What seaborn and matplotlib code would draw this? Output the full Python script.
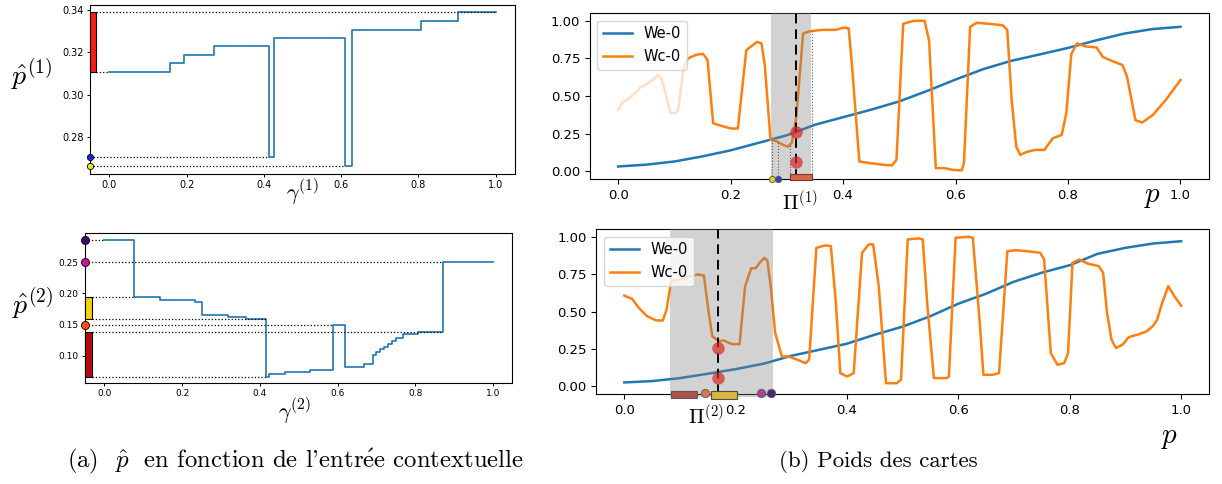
import numpy as np
import matplotlib
matplotlib.use('Agg')
import matplotlib.pyplot as plt
import matplotlib.transforms as mtransforms
import seaborn as sns

plt.rcParams['mathtext.fontset'] = 'cm'

# ---------------- (a) p^ en fonction de gamma ----------------
gamma1 = [0.0, 0.157, 0.193, 0.271, 0.414, 0.425, 0.611, 0.627, 0.806, 0.903, 1.0]
p_hat1 = [0.3107, 0.3150, 0.3187, 0.3228, 0.2706, 0.3268, 0.2665, 0.3307, 0.3348, 0.3389, 0.3389]

gamma2 = [0.0, 0.076, 0.142, 0.233, 0.250, 0.317, 0.365, 0.417, 0.423, 0.464, 0.529, 0.588,
          0.619, 0.668, 0.692, 0.700, 0.710, 0.720, 0.730, 0.740, 0.750, 0.768, 0.808, 0.871, 1.0]
p_hat2 = [0.2855, 0.1938, 0.1900, 0.1868, 0.1660, 0.1620, 0.1584, 0.0663, 0.0700, 0.0732, 0.0775, 0.1498,
          0.0823, 0.0860, 0.1010, 0.1050, 0.1100, 0.1140, 0.1180, 0.1240, 0.1280, 0.1340, 0.1380, 0.2500, 0.2500]

# intervalles (barres) et points reportes sur l'axe vertical
bars1 = [(0.3107, 0.3389)]
bars1_col = ['#ff1a1a']
bars1_end = [(0.0, 1.0)]          # fin des pointilles (bas, haut)
pts1 = [0.2706, 0.2665]
pts1_col = ['#1f1fe6', '#e8e817']
pts1_end = [0.414, 0.611]

bars2 = [(0.1584, 0.1938), (0.0663, 0.1380)]
bars2_col = ['#f7d10c', '#b40a0a']
bars2_end = [(0.417, 0.076), (0.417, 0.871)]
pts2 = [0.2855, 0.2500, 0.1498]
pts2_col = ['#440a68', '#c0189c', '#f5520c']
pts2_end = [0.0, 0.871, 0.588]

# ---------------- (b) poids des cartes ----------------
p_we1 = [0.0, 0.05, 0.1, 0.15, 0.2, 0.25, 0.3, 0.35, 0.4, 0.45, 0.5, 0.55, 0.6, 0.65, 0.7,
         0.75, 0.8, 0.85, 0.9, 0.95, 1.0]
we1 = [0.033, 0.045, 0.066, 0.10, 0.14, 0.19, 0.24, 0.31, 0.36, 0.41, 0.465, 0.535, 0.61,
       0.68, 0.735, 0.777, 0.82, 0.87, 0.915, 0.945, 0.96]
p_wc1 = [0.000, 0.008, 0.019, 0.031, 0.040, 0.050, 0.062, 0.071, 0.077, 0.089, 0.093, 0.101, 0.107,
         0.116, 0.124, 0.139, 0.151, 0.159, 0.169, 0.186, 0.201, 0.213, 0.228, 0.247, 0.255, 0.261,
         0.271, 0.282, 0.294, 0.302, 0.309, 0.317, 0.329, 0.340, 0.363, 0.387, 0.402, 0.410, 0.416,
         0.429, 0.449, 0.472, 0.487, 0.495, 0.507, 0.526, 0.545, 0.553, 0.565, 0.580, 0.596, 0.611,
         0.615, 0.626, 0.638, 0.665, 0.684, 0.692, 0.700, 0.708, 0.715, 0.727, 0.742, 0.758, 0.773,
         0.789, 0.797, 0.806, 0.816, 0.831, 0.851, 0.862, 0.874, 0.897, 0.905, 0.920, 0.932, 0.951,
         0.974, 1.000]
wc1 = [0.41, 0.46, 0.485, 0.52, 0.56, 0.575, 0.61, 0.64, 0.62, 0.45, 0.39, 0.385, 0.41,
       0.68, 0.75, 0.775, 0.78, 0.74, 0.32, 0.30, 0.285, 0.285, 0.805, 0.86, 0.85, 0.70,
       0.21, 0.20, 0.175, 0.165, 0.19, 0.365, 0.915, 0.93, 0.94, 0.94, 0.955, 0.95, 0.70,
       0.066, 0.055, 0.044, 0.04, 0.077, 0.98, 1.0, 1.0, 0.87, 0.022, 0.022, 0.01, 0.007,
       0.055, 0.96, 0.987, 0.978, 0.97, 0.94, 0.47, 0.165, 0.11, 0.13, 0.143, 0.143, 0.22,
       0.243, 0.386, 0.78, 0.85, 0.83, 0.823, 0.76, 0.74, 0.706, 0.63, 0.34, 0.325, 0.375,
       0.475, 0.607]
span1 = (0.2715, 0.3432)
pi1 = 0.3165
red_pts1 = [0.261, 0.066]
bar_b1 = (0.3054, 0.3452)
dots_b1 = [0.274, 0.2845]
dots_b1_col = ['#d8d428', '#3c3cc8']

p_we2 = [0.0, 0.05, 0.1, 0.15, 0.2, 0.25, 0.3, 0.35, 0.4, 0.45, 0.5, 0.55, 0.6, 0.65, 0.7,
         0.75, 0.8, 0.85, 0.9, 0.95, 1.0]
we2 = [0.027, 0.036, 0.056, 0.085, 0.116, 0.152, 0.205, 0.245, 0.286, 0.346, 0.40, 0.47, 0.553,
       0.62, 0.70, 0.76, 0.81, 0.886, 0.926, 0.955, 0.97]
p_wc2 = [0.000, 0.014, 0.026, 0.041, 0.057, 0.069, 0.076, 0.084, 0.100, 0.115, 0.131, 0.143, 0.150,
         0.158, 0.170, 0.178, 0.193, 0.207, 0.217, 0.228, 0.236, 0.244, 0.252, 0.257, 0.263, 0.271,
         0.283, 0.295, 0.310, 0.326, 0.332, 0.345, 0.361, 0.371, 0.380, 0.388, 0.400, 0.412, 0.427,
         0.439, 0.447, 0.457, 0.470, 0.489, 0.497, 0.509, 0.528, 0.536, 0.544, 0.556, 0.579, 0.583,
         0.595, 0.618, 0.626, 0.638, 0.645, 0.661, 0.673, 0.688, 0.704, 0.723, 0.747, 0.754, 0.766,
         0.778, 0.790, 0.797, 0.805, 0.817, 0.832, 0.852, 0.860, 0.867, 0.875, 0.883, 0.895, 0.906,
         0.922, 0.938, 0.949, 0.957, 0.965, 0.977, 0.988, 1.000]
wc2 = [0.607, 0.585, 0.525, 0.469, 0.442, 0.44, 0.513, 0.703, 0.714, 0.732, 0.748, 0.741, 0.536,
       0.335, 0.301, 0.308, 0.283, 0.283, 0.67, 0.79, 0.79, 0.83, 0.86, 0.84, 0.67, 0.357,
       0.2, 0.2, 0.18, 0.156, 0.18, 0.926, 0.942, 0.938, 0.558, 0.089, 0.067, 0.089, 0.893,
       0.949, 0.949, 0.67, 0.022, 0.022, 0.045, 0.982, 0.989, 0.982, 0.558, 0.056, 0.056, 0.067,
       0.993, 1.0, 0.993, 0.446, 0.078, 0.078, 0.089, 0.904, 0.91, 0.904, 0.893, 0.848, 0.223,
       0.145, 0.156, 0.223, 0.826, 0.848, 0.821, 0.804, 0.759, 0.491, 0.313, 0.257, 0.279, 0.33,
       0.346, 0.368, 0.402, 0.446, 0.547, 0.67, 0.603, 0.54]
span2 = (0.0826, 0.267)
pi2 = 0.168
red_pts2 = [0.257, 0.060]
bars_b2 = [(0.0846, 0.1300), (0.1550, 0.2016)]
bars_b2_col = ['#b0504a', '#d8b73c']
dots_b2 = [0.1448, 0.2464, 0.2643]
dots_b2_col = ['#d6784e', '#a4449a', '#4b2a6e']

left_yticks1 = [0.28, 0.30, 0.32, 0.34]
left_yticks2 = [0.10, 0.15, 0.20, 0.25]
right_yticks = [0.0, 0.25, 0.50, 0.75, 1.00]
xticks = [0.0, 0.2, 0.4, 0.6, 0.8, 1.0]

fig = plt.figure(figsize=(12.22, 4.84), dpi=100)
ax1 = fig.add_axes([0.0738, 0.6405, 0.3475, 0.3498])
ax2 = fig.add_axes([0.0696, 0.2087, 0.3497, 0.3099])
ax3 = fig.add_axes([0.4828, 0.6302, 0.5062, 0.3424])
ax4 = fig.add_axes([0.4881, 0.1860, 0.5012, 0.3403])

BLUE = '#1f77b4'
ORANGE = '#ff7f0e'


def left_panel(ax, g, p, bars, bcols, bends, pts, pcols, pends, bw, ms, yt, lab, ylim):
    sns.lineplot(x=g, y=p, drawstyle='steps-post', color=BLUE, lw=1.2, ax=ax)
    ax.set_xlim(-0.05, 1.05)
    ax.set_ylim(*ylim)
    x0 = -0.05
    for (lo, hi), c, (e_lo, e_hi) in zip(bars, bcols, bends):
        ax.bar(x0, hi - lo, bottom=lo, width=bw, align='edge', color=c, edgecolor='k',
               lw=0.8, clip_on=False, zorder=4)
        ax.plot([x0 + bw, e_lo], [lo, lo], ls=':', color='k', lw=0.9, zorder=3)
        ax.plot([x0 + bw, e_hi], [hi, hi], ls=':', color='k', lw=0.9, zorder=3)
    for y, c, e in zip(pts, pcols, pends):
        ax.plot([x0, e], [y, y], ls=':', color='k', lw=0.9, zorder=3)
        ax.plot([x0], [y], 'o', ms=ms, mfc=c, mec='k', mew=0.6, clip_on=False, zorder=5)
    ax.set_xticks(xticks)
    ax.set_yticks(yt)
    ax.tick_params(labelsize=7, length=2.5, width=0.7, pad=2)
    ax.set_xlabel('')
    ax.set_ylabel(lab, rotation=0, fontsize=20)


left_panel(ax1, gamma1, p_hat1, bars1, bars1_col, bars1_end, pts1, pts1_col, pts1_end,
           0.016, 4.5, left_yticks1, r'$\hat{p}^{(1)}$', (0.2627, 0.3425))
ax1.yaxis.set_label_coords(-0.139, 0.585)
ax1.yaxis.label.set_va('center')
ax1.text(0.5, -0.11, r'$\gamma^{(1)}$', transform=ax1.transAxes, ha='center', va='center', fontsize=16)

left_panel(ax2, gamma2, p_hat2, bars2, bars2_col, bars2_end, pts2, pts2_col, pts2_end,
           0.017, 5.8, left_yticks2, r'$\hat{p}^{(2)}$', (0.056, 0.297))
ax2.yaxis.set_label_coords(-0.122, 0.533)
ax2.yaxis.label.set_va('center')
ax2.set_yticklabels(['0.10', '0.15', '0.20', '0.25'], fontsize=6.5)
ax2.tick_params(axis='x', labelsize=6.5)
ax2.text(0.491, -0.19, r'$\gamma^{(2)}$', transform=ax2.transAxes, ha='center', va='center', fontsize=16)


def right_panel(ax, pwe, we, pwc, wc, fade_to=None):
    sns.lineplot(x=pwe, y=we, color=BLUE, lw=1.8, label='We-0', ax=ax)
    pwc = np.asarray(pwc)
    wc = np.asarray(wc)
    if fade_to is not None:
        m = pwc <= fade_to[1]
        sns.lineplot(x=pwc[m], y=wc[m], color=ORANGE, lw=1.8, alpha=0.25, ax=ax)
        m = pwc >= fade_to[0]
        sns.lineplot(x=pwc[m], y=wc[m], color=ORANGE, lw=1.8, label='Wc-0', ax=ax)
    else:
        sns.lineplot(x=pwc, y=wc, color=ORANGE, lw=1.8, label='Wc-0', ax=ax)
    ax.set_xlim(-0.05, 1.05)
    ax.set_ylim(-0.05, 1.05)
    ax.set_xticks(xticks)
    ax.set_yticks(right_yticks)
    ax.tick_params(labelsize=9.5)
    ax.set_xlabel('')
    ax.set_ylabel('')
    ax.legend(loc='upper left', fontsize=10.5)


# ---- haut droite
right_panel(ax3, p_we1, we1, p_wc1, wc1, fade_to=(0.116, 0.124))
ax3.axvspan(*span1, color='gray', alpha=0.35, lw=0, zorder=3)
ax3.axvline(pi1, color='k', ls=(0, (5, 3)), lw=1.4, zorder=6)
ax3.plot([pi1] * len(red_pts1), red_pts1, 'o', ms=9, color='#d62728', alpha=0.7, mew=0, zorder=7)
for xv in dots_b1 + list(bar_b1):
    ax3.plot([xv, xv], [-0.05, np.interp(xv, p_wc1, wc1)], ls=':', color='0.35', lw=0.8, zorder=4)
ax3.barh(-0.055, bar_b1[1] - bar_b1[0], left=bar_b1[0], height=0.04, align='edge',
         color='#d9654a', edgecolor='#7a3a2a', lw=0.8, clip_on=False, zorder=6)
for xv, c in zip(dots_b1, dots_b1_col):
    ax3.plot([xv], [-0.05], 'o', ms=4.5, mfc=c, mec='0.3', mew=0.6, clip_on=False, zorder=7)
tr3 = mtransforms.blended_transform_factory(ax3.transData, ax3.transAxes)
ax3.text(0.323, -0.139, r'$\Pi^{(1)}$', transform=tr3, ha='center', va='center', fontsize=15)
ax3.text(0.9085, -0.103, r'$p$', transform=ax3.transAxes, ha='center', va='center', fontsize=21)

# ---- bas droite
right_panel(ax4, p_we2, we2, p_wc2, wc2)
ax4.axvspan(*span2, ymin=-0.02, ymax=1, color='gray', alpha=0.35, lw=0, zorder=3, clip_on=False)
ax4.plot([pi2, pi2], [-0.05, 1.05], color='k', ls=(0, (5, 3)), lw=1.4, zorder=6)
ax4.plot([pi2] * len(red_pts2), red_pts2, 'o', ms=9, color='#d62728', alpha=0.7, mew=0, zorder=7)
ax4.barh(-0.078, bars_b2[0][1] - bars_b2[0][0], left=bars_b2[0][0], height=0.051, align='edge',
         color=bars_b2_col[0], edgecolor='0.35', lw=0.8, clip_on=False, zorder=6)
ax4.barh(-0.084, bars_b2[1][1] - bars_b2[1][0], left=bars_b2[1][0], height=0.051, align='edge',
         color=bars_b2_col[1], edgecolor='0.3', lw=0.8, clip_on=False, zorder=6)
for xv, c in zip(dots_b2, dots_b2_col):
    ax4.plot([xv], [-0.044], 'o', ms=6, mfc=c, mec='0.35', mew=0.6, clip_on=False, zorder=7)
ax4.text(0.178, -0.134, r'$\Pi^{(2)}$', transform=ax4.transAxes, ha='center', va='center', fontsize=15)
ax4.text(0.9347, -0.261, r'$p$', transform=ax4.transAxes, ha='center', va='center', fontsize=21)

# ---- legendes des sous-figures
cap_font = ['cmr10', 'DejaVu Serif']
fig.text(0.242, 0.0475, r"(a)  $\hat{p}$  en fonction de l'entr$\acute{\mathrm{e}}$e contextuelle",
         ha='center', va='center', fontsize=17.8, family=cap_font)
fig.text(0.719, 0.0475, '(b) Poids des cartes', ha='center', va='center', fontsize=16.5, family=cap_font)

fig.savefig('out.png', dpi=100)
